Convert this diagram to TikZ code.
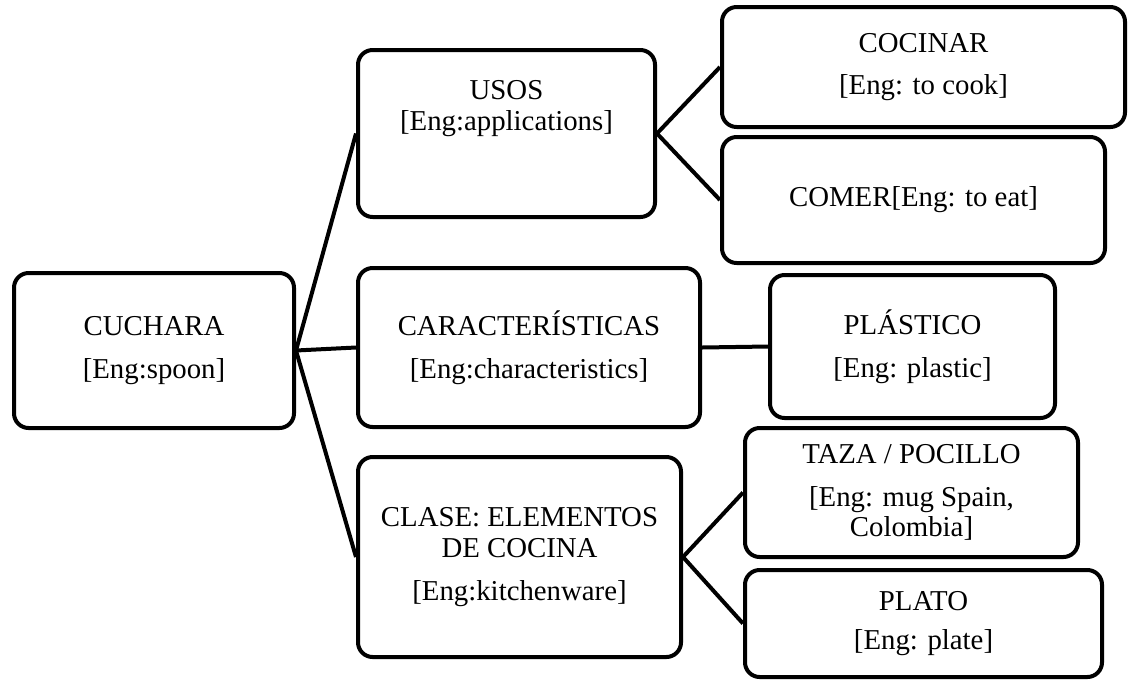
\documentclass[tikz,border=0pt]{standalone}
\usepackage{fontspec}
\setmainfont{Liberation Serif}
\begin{document}
\begin{tikzpicture}
    [x=0.75pt, y=-0.75pt,
     caja/.style={draw, line width=3pt, rounded corners=11pt, align=center,
        inner sep=0pt, font=\fontsize{21.6}{23}\selectfont},
     rama/.style={line width=3pt}]
    \useasboundingbox (0,0) rectangle (1135,679);
    \node[caja, minimum width=210pt, minimum height=116.25pt]
        (cuchara) at (154, 350.5) {CUCHARA\\[9pt]{[}Eng:spoon]};
    \node[caja, minimum width=222.75pt, minimum height=125.25pt, text depth=42pt]
        (usos) at (506.5, 133.5) {USOS\\{[}Eng:applications]};
    \node[caja, minimum width=302.25pt, minimum height=90pt]
        (cocinar) at (923.5, 67) {COCINAR\\[9pt]{[}Eng: to cook]};
    \node[caja, minimum width=287.25pt, minimum height=94.5pt]
        (comer) at (913.5, 200) {COMER[Eng: to eat]};
    \node[caja, minimum width=256.5pt, minimum height=119.25pt]
        (caract) at (529, 347.5) {CARACTERÍSTICAS\\[9pt]{[}Eng:characteristics]};
    \node[caja, minimum width=213.75pt, minimum height=107.25pt]
        (plastico) at (912.5, 346.5) {PLÁSTICO\\[9pt]{[}Eng: plastic]};
    \node[caja, minimum width=242.25pt, minimum height=150pt]
        (clase) at (519.5, 557) {CLASE: ELEMENTOS\\DE COCINA\\[9pt]{[}Eng:kitchenware]};
    \node[caja, minimum width=249.75pt, minimum height=96.75pt]
        (taza) at (911.5, 492.5) {TAZA / POCILLO\\[9pt]{[}Eng: mug Spain,\\Colombia]};
    \node[caja, minimum width=267.75pt, minimum height=80.25pt]
        (plato) at (923.5, 623.5) {PLATO\\[6pt]{[}Eng: plate]};
    \draw[rama] (cuchara.east) -- (usos.west);
    \draw[rama] (cuchara.east) -- (caract.west);
    \draw[rama] (cuchara.east) -- (clase.west);
    \draw[rama] (usos.east) -- (cocinar.west);
    \draw[rama] (usos.east) -- (comer.west);
    \draw[rama] (caract.east) -- (plastico.west);
    \draw[rama] (clase.east) -- (taza.west);
    \draw[rama] (clase.east) -- (plato.west);
\end{tikzpicture}
\end{document}
